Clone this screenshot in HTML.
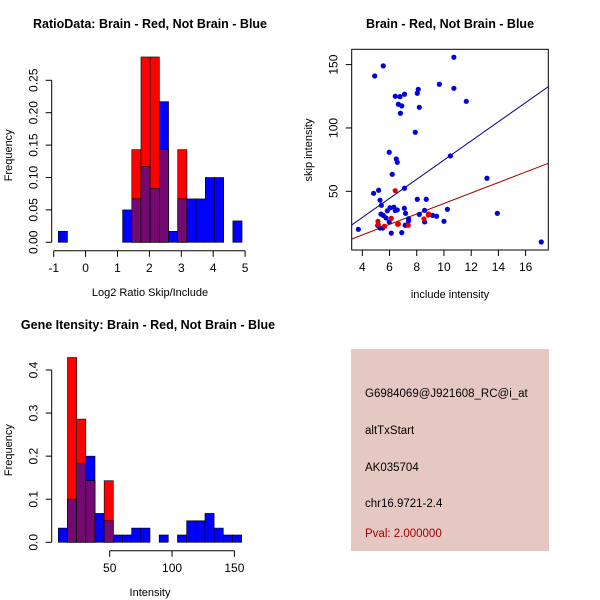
<!DOCTYPE html>
<html><head><meta charset="utf-8"><style>
body{margin:0;background:#fff}
svg{display:block;font-family:"Liberation Sans",sans-serif}
</style></head><body>
<svg id="c" width="600" height="600" xmlns="http://www.w3.org/2000/svg">
<rect width="600" height="600" fill="#fff"/>
<text x="150" y="28" text-anchor="middle" font-weight="bold" font-size="12.5">RatioData: Brain - Red, Not Brain - Blue</text>
<text x="450" y="28" text-anchor="middle" font-weight="bold" font-size="12.5">Brain - Red, Not Brain - Blue</text>
<text x="148" y="329" text-anchor="middle" font-weight="bold" font-size="12.5">Gene Itensity: Brain - Red, Not Brain - Blue</text>
<g id="h1"></g>
<g id="sc"></g>
<g id="h2"></g>
<g>
<rect x="351" y="349" width="198" height="202" fill="#e6c8c2"/>
<text x="365" y="397" font-size="11.5">G6984069@J921608_RC@i_at</text>
<text x="365" y="434" font-size="11.5">altTxStart</text>
<text x="365" y="471" font-size="11.5">AK035704</text>
<text x="365" y="507" font-size="11.5">chr16.9721-2.4</text>
<text x="365" y="537" font-size="11.5" fill="#a00000">Pval: 2.000000</text>
</g>
</svg>
<script>
// Ratio histogram data
const ratioStart = -0.856, ratioWidth = 0.288;
const ratioBlue = [0.017,0,0,0,0,0,0,0.05,0.067,0.117,0.083,0.217,0.017,0.067,0.067,0.067,0.1,0.1,0,0.033];
const ratioRed  = [0,0,0,0,0,0,0,0,0.143,0.286,0.286,0.143,0,0.143,0,0,0,0,0,0];
const ratioXTicks = [-1,0,1,2,3,4,5];
const ratioYTicks = ["0.00","0.05","0.10","0.15","0.20","0.25"];
// Intensity histogram data
const intStart = 8.8, intWidth = 7.35;
const intBlue = [0.033,0.1,0.183,0.2,0.067,0.05,0.017,0.017,0.033,0.033,0,0.017,0,0.017,0.05,0.05,0.067,0.033,0.017,0.017];
const intRed  = [0,0.429,0.286,0.143,0,0.143,0,0,0,0,0,0,0,0,0,0,0,0,0,0];
const intXTicks = [50,100,150];
const intYTicks = ["0.0","0.1","0.2","0.3","0.4"];
// Scatter data
const blueX = [3.71,4.91,5.54,4.83,5.2,5.3,5.4,5.37,5.54,5.13,5.3,5.5,5.74,5.84,5.98,6.03,6.13,5.98,6.2,6.5,6.57,6.42,6.77,6.65,6.9,6.8,7.1,7.1,6.42,6.32,6.57,7.09,7.18,6.9,7.15,7.3,7.4,7.4,7.89,8.04,8.11,8.19,8.04,8.19,8.58,8.58,8.7,9.17,9.46,9.66,10.0,10.25,10.47,10.73,10.73,11.64,13.16,13.92,17.15];
const blueY = [20,141,149,48.4,50.8,43,39,32,31,23,21,21,29,34.6,25.8,37,17,80.8,63.4,75.5,72.9,125,124.7,118.7,117.4,111.6,126.6,52.4,34.8,37.4,35.3,36.6,32.6,17.4,23.2,23.4,28.4,26.6,96.6,127.4,130.5,116.3,43.7,31.8,25.8,35,43.7,31,30.3,134.5,26.3,35.8,77.9,155.8,131.3,121,60.3,32.6,10];
const redX = [5.15,5.17,5.64,6.13,6.42,6.6,6.65,7.38,8.87,8.53,8.85];
const redY = [26.3,23.7,22.4,28.7,50.5,24,24.2,23.2,32.1,28.2,31.3];
const blueFit = [-0.94, 7.56];
const redFit = [-0.96, 4.135];
const scXTicks = [4,6,8,10,12,14,16];
const scYTicks = [50,100,150];

const NS="http://www.w3.org/2000/svg";
function mk(parent,tag,attrs){const e=document.createElementNS(NS,tag);for(const k in attrs)e.setAttribute(k,attrs[k]);parent.appendChild(e);return e;}

function hist(g,start,w,blue,red,xs,ys,yt,xt,xTicks,yTicks,xlab,ymax){
  for(let i=0;i<blue.length;i++){
    const x0=xs(start+i*w),x1=xs(start+(i+1)*w);
    const b=blue[i],r=red[i],m=Math.min(b,r);
    if(b>0){const e=mk(g,'rect',{x:x0,y:ys(b),width:x1-x0,height:ys(0)-ys(b),fill:'#0000ff',stroke:'#000','stroke-width':0.6});
      
      }
    if(r>0){const e=mk(g,'rect',{x:x0,y:ys(r),width:x1-x0,height:ys(0)-ys(r),fill:'#ff0000',stroke:'#000','stroke-width':0.6});
      
      }
    if(m>0){const e=mk(g,'rect',{x:x0,y:ys(m),width:x1-x0,height:ys(0)-ys(m),fill:'#720a72',stroke:'#000','stroke-width':0.6});
      
      }
  }
  const ay=ys(0)+8.5;
  const xa=mk(g,'line',{x1:xs(xTicks[0]),x2:xs(xTicks[xTicks.length-1]),y1:ay,y2:ay,stroke:'#000'});
  
  
  xTicks.forEach(t=>{mk(g,'line',{x1:xs(t),x2:xs(t),y1:ay,y2:ay+6,stroke:'#000'});
    const tx=mk(g,'text',{x:xs(t),y:ay+21,'text-anchor':'middle','font-size':12});tx.textContent=t;
    
    });
  const axx=51.7;
  const ya=mk(g,'line',{x1:axx,x2:axx,y1:ys(0),y2:ys(ymax),stroke:'#000'});
  
  
  yTicks.forEach(t=>{const v=parseFloat(t),y=ys(v);mk(g,'line',{x1:axx-6,x2:axx,y1:y,y2:y,stroke:'#000'});
    const tx=mk(g,'text',{x:axx-14,y:y,'text-anchor':'middle','font-size':12,transform:`rotate(-90 ${axx-14} ${y})`});tx.textContent=t;
    
    });
  const yl=mk(g,'text',{x:12,y:(ys(0)+ys(ymax))/2-6,'text-anchor':'middle','font-size':11,transform:`rotate(-90 12 ${(ys(0)+ys(ymax))/2-6})`});yl.textContent='Frequency';
  
  
  const xl=mk(g,'text',{x:xt,y:ay+45,'text-anchor':'middle','font-size':11});xl.textContent=xlab;
  
  
}

// Histogram 1
(function(){
  const xs=v=>53.7+(v+1)*31.9, ys=v=>242.3-v*648;
  hist(document.getElementById('h1'),ratioStart,ratioWidth,ratioBlue,ratioRed,xs,ys,0,150,ratioXTicks,ratioYTicks,'Log2 Ratio Skip/Include',0.25);
})();
// Histogram 2
(function(){
  const xs=v=>109.7+(v-50)*1.247, ys=v=>542.3-v*430.8;
  hist(document.getElementById('h2'),intStart,intWidth,intBlue,intRed,xs,ys,0,150,intXTicks,intYTicks,'Intensity',0.4);
})();
// Scatter
(function(){
  const g=document.getElementById('sc');
  const xs=v=>362.3+(v-4)*13.61, ys=v=>191.3-(v-50)*1.267;
  const L=351.7,R=548.3,T=49.3,B=250;
  const clip=mk(g,'clipPath',{id:'scClip'});mk(clip,'rect',{x:L,y:T,width:R-L,height:B-T});
  const xmin=(L-362.3)/13.61+4,xmax=(R-362.3)/13.61+4;
  [[blueFit,'#00008b','blue-fit-line'],[redFit,'#b00000','red-fit-line']].forEach(([f,c,n])=>{
    const e=mk(g,'line',{x1:xs(xmin),y1:ys(f[0]+f[1]*xmin),x2:xs(xmax),y2:ys(f[0]+f[1]*xmax),stroke:c,'stroke-width':1,'clip-path':'url(#scClip)'});
    
    
  });
  blueX.forEach((x,i)=>{const e=mk(g,'circle',{cx:xs(x),cy:ys(blueY[i]),r:2.6,fill:'#0000dd'});
    
    });
  redX.forEach((x,i)=>{const e=mk(g,'circle',{cx:xs(x),cy:ys(redY[i]),r:2.6,fill:'#dd0000'});
    
    });
  const box=mk(g,'rect',{x:L,y:T,width:R-L,height:B-T,fill:'none',stroke:'#000'});
  
  
  scXTicks.forEach(t=>{mk(g,'line',{x1:xs(t),x2:xs(t),y1:B,y2:B+6,stroke:'#000'});
    const tx=mk(g,'text',{x:xs(t),y:B+21,'text-anchor':'middle','font-size':12});tx.textContent=t;
    
    });
  scYTicks.forEach(t=>{const y=ys(t);mk(g,'line',{x1:L-6,x2:L,y1:y,y2:y,stroke:'#000'});
    const tx=mk(g,'text',{x:L-14,y:y,'text-anchor':'middle','font-size':12,transform:`rotate(-90 ${L-14} ${y})`});tx.textContent=t;
    
    });
  const yl=mk(g,'text',{x:312,y:150,'text-anchor':'middle','font-size':11,transform:'rotate(-90 312 150)'});yl.textContent='skip intensity';
  
  
  const xl=mk(g,'text',{x:450,y:298,'text-anchor':'middle','font-size':11});xl.textContent='include intensity';
  
  
})();
</script>
</body></html>
